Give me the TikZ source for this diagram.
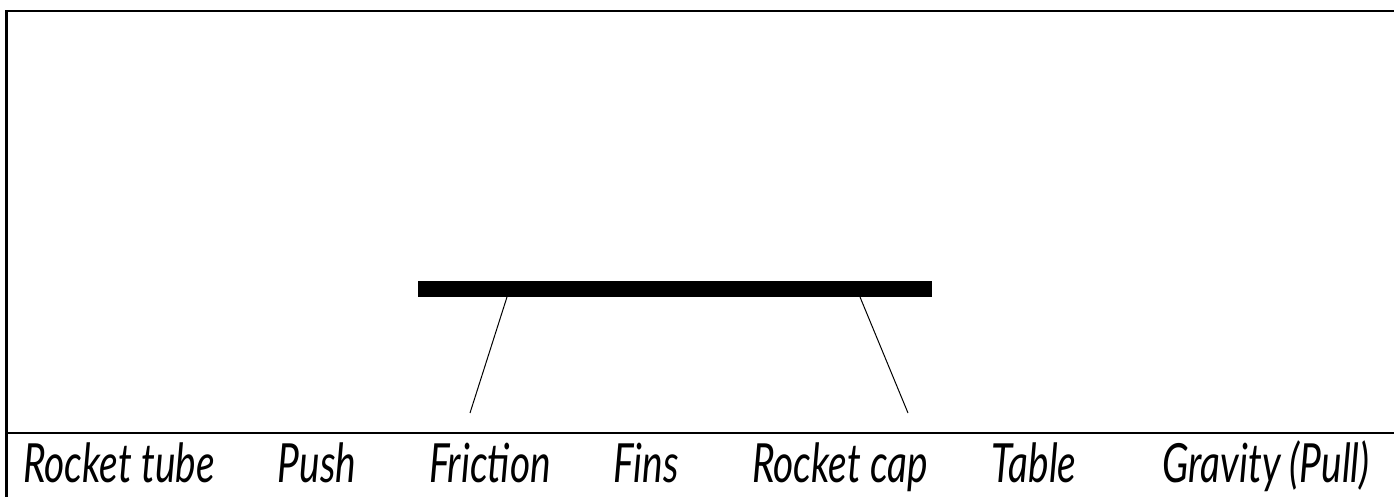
\documentclass[tikz,border=0pt]{standalone}
\usepackage{fontspec}
\usetikzlibrary{positioning}
\newfontfamily\handfont{Lato}[FakeStretch=0.72]

\begin{document}
\begin{tikzpicture}[x=0.5pt,y=-0.5pt]
\tikzstyle{frame}=[line width=1.4pt]
\tikzstyle{leg}=[line width=0.5pt]
\tikzstyle{word}=[anchor=base,inner sep=0pt,font=\handfont\itshape\fontsize{27}{27}\selectfont]
\useasboundingbox (0,0) rectangle (1394,497);
% frame and answer strip
\draw[frame] (1394,11) -- (6.5,11) -- (6.5,497);
\draw[frame] (6.5,433) -- (1394,433);
% table
\fill (418,281) rectangle (932,297);
\coordinate (ltop) at (507,297);
\coordinate (lfoot) at (470,413);
\coordinate (rtop) at (860,297);
\coordinate (rfoot) at (908,413);
\draw[leg] (ltop) -- (lfoot);
\draw[leg] (rtop) -- (rfoot);
% word bank
\foreach \x/\t/\n in {119/Rocket tube/tube,317/Push/push,490/Friction/friction,646/Fins/fins,840/Rocket cap/cap,1034/Table/table,1266/Gravity (Pull)/gravity}{\node[word] (\n) at (\x,483) {\t};}
\end{tikzpicture}
\end{document}
